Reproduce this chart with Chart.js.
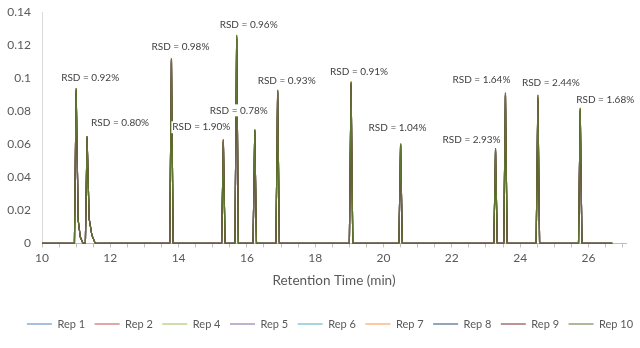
<!DOCTYPE html>
<html>
<head>
<meta charset="utf-8">
<script src="https://cdn.jsdelivr.net/npm/chart.js@4/dist/chart.umd.min.js"></script>
<style>
  html, body { margin: 0; padding: 0; background: #fff; }
  canvas { display: block; }
</style>
</head>
<body>
<canvas id="chrom" width="640" height="348"></canvas>
<script>
// retention time of each peak (min) and its RSD label
const retention = [11.0, 11.32, 13.79, 15.31, 15.7, 16.23, 16.9, 19.05, 20.5, 23.28, 23.57, 24.52, 25.76];
const rsdLabels = ['0.92%', '0.80%', '0.98%', '1.90%', '0.96%', '0.78%', '0.93%', '0.91%', '1.04%', '2.93%', '1.64%', '2.44%', '1.68%'];

// peak heights per replicate
const rep1  = [0.0925, 0.0642, 0.1105, 0.0618, 0.1245, 0.0683, 0.0918, 0.0968, 0.0598, 0.0556, 0.0895, 0.0872, 0.0806];
const rep2  = [0.0932, 0.0646, 0.1112, 0.0624, 0.1250, 0.0686, 0.0922, 0.0972, 0.0600, 0.0562, 0.0899, 0.0885, 0.0810];
const rep4  = [0.0938, 0.0649, 0.1118, 0.0629, 0.1262, 0.0689, 0.0928, 0.0979, 0.0604, 0.0570, 0.0908, 0.0896, 0.0818];
const rep5  = [0.0921, 0.0640, 0.1100, 0.0612, 0.1238, 0.0679, 0.0913, 0.0962, 0.0594, 0.0548, 0.0886, 0.0860, 0.0798];
const rep6  = [0.0928, 0.0644, 0.1108, 0.0620, 0.1247, 0.0684, 0.0919, 0.0970, 0.0597, 0.0566, 0.0902, 0.0878, 0.0812];
const rep7  = [0.0934, 0.0647, 0.1114, 0.0626, 0.1254, 0.0687, 0.0925, 0.0975, 0.0602, 0.0559, 0.0893, 0.0890, 0.0803];
const rep8  = [0.0918, 0.0638, 0.1097, 0.0610, 0.1236, 0.0677, 0.0910, 0.0960, 0.0592, 0.0552, 0.0890, 0.0866, 0.0800];
const rep9  = [0.0930, 0.0645, 0.1110, 0.0622, 0.1249, 0.0685, 0.0921, 0.0971, 0.0599, 0.0563, 0.0897, 0.0882, 0.0808];
const rep10 = [0.0940, 0.0650, 0.1120, 0.0630, 0.1260, 0.0690, 0.0930, 0.0980, 0.0605, 0.0577, 0.0913, 0.0900, 0.0820];

// tailing of the first two peaks [time, signal]
const tail1 = [[11.06, 0.014], [11.12, 0.004], [11.2, 0]];
const tail2 = [[11.38, 0.015], [11.46, 0.005], [11.56, 0]];

const runStart = 10.0;
const runEnd = 26.7;
const yTicks = [0, 0.02, 0.04, 0.06, 0.08, 0.1, 0.12, 0.14];

const reps = [
  { name: 'Rep 1', heights: rep1, color: '#4F81BD' },
  { name: 'Rep 2', heights: rep2, color: '#C0504D' },
  { name: 'Rep 4', heights: rep4, color: '#9BBB59' },
  { name: 'Rep 5', heights: rep5, color: '#8064A2' },
  { name: 'Rep 6', heights: rep6, color: '#4BACC6' },
  { name: 'Rep 7', heights: rep7, color: '#F79646' },
  { name: 'Rep 8', heights: rep8, color: '#2C4D75' },
  { name: 'Rep 9', heights: rep9, color: '#772C2A' },
  { name: 'Rep 10', heights: rep10, color: '#5F7530' }
];

function buildTrace(heights) {
  const pts = [{ x: runStart, y: 0 }];
  retention.forEach((t, i) => {
    pts.push({ x: t - 0.05, y: 0 });
    pts.push({ x: t, y: heights[i] });
    const tail = i === 0 ? tail1 : i === 1 ? tail2 : [[t + 0.05, 0]];
    tail.forEach(p => pts.push({ x: p[0], y: p[1] }));
  });
  pts.push({ x: runEnd, y: 0 });
  return pts;
}

// Rep 10 drawn on top: chart.js paints dataset 0 last, legend gets reversed back
const datasets = reps.slice().reverse().map(r => ({
  label: r.name,
  data: buildTrace(r.heights),
  borderColor: r.color,
  backgroundColor: r.color,
  borderWidth: 1.2,
  pointRadius: 0,
  tension: 0,
  fill: false
}));

// where each RSD label sits relative to its peak apex (px)
const labelOffsets = [[14, -10], [33, -13], [9, -11], [-22, -12], [12, -10], [-16, -19], [9, -9], [8, -10], [-3, -16], [-24, -8], [-24, -13], [13, -12], [25, -8]];

const rsdPlugin = {
  id: 'rsdPlugin',
  afterLayout(chart) {
    // legend sits a bit right of centre in the original
    chart.legend.left += 17;
    chart.legend.right += 17;
  },
  afterDatasetsDraw(chart) {
    const ctx = chart.ctx;
    const xs = chart.scales.x, ys = chart.scales.y;
    ctx.save();
    ctx.font = '10px Lato';
    ctx.textAlign = 'center';
    ctx.textBaseline = 'middle';
    retention.forEach((t, i) => {
      const txt = 'RSD = ' + rsdLabels[i];
      const x = xs.getPixelForValue(t) + labelOffsets[i][0];
      const y = ys.getPixelForValue(rep10[i]) + labelOffsets[i][1];
      const w = ctx.measureText(txt).width;
      ctx.fillStyle = '#ffffff';
      ctx.fillRect(x - w / 2 - 1, y - 6, w + 2, 12);
      ctx.fillStyle = '#404040';
      ctx.fillText(txt, x, y);
    });
    ctx.restore();
  }
};

new Chart(document.getElementById('chrom'), {
  type: 'line',
  data: { datasets: datasets },
  options: {
    responsive: false,
    animation: false,
    devicePixelRatio: 1,
    layout: { padding: { top: 12, right: 14, bottom: 8.5, left: 0 } },
    scales: {
      x: {
        type: 'linear',
        min: 10,
        max: 27.1,
        afterBuildTicks: axis => {
          const t = [];
          for (let v = 10; v <= 27; v += 0.5) t.push({ value: v });
          axis.ticks = t;
        },
        ticks: {
          autoSkip: false,
          maxRotation: 0,
          padding: 4,
          color: '#595959',
          font: { family: 'Lato', size: 12 },
          callback: v => (Number.isInteger(v) && v % 2 === 0 ? String(v) : '')
        },
        grid: { drawOnChartArea: false, drawTicks: true, tickLength: 4, color: '#bfbfbf' },
        border: { color: '#bfbfbf' },
        title: {
          display: true,
          text: 'Retention Time (min)',
          color: '#595959',
          font: { family: 'Lato', size: 13.5 },
          padding: { top: 3, bottom: 20 }
        }
      },
      y: {
        min: 0,
        max: 0.14,
        afterBuildTicks: axis => { axis.ticks = yTicks.map(v => ({ value: v })); },
        afterFit: axis => {
          axis.width = 42;
          axis.paddingTop = 0;
          axis.paddingBottom = 0;
        },
        ticks: {
          padding: 11,
          color: '#595959',
          font: { family: 'Lato', size: 12 },
          callback: v => String(v)
        },
        grid: { display: false, drawTicks: false },
        border: { color: '#d9d9d9' }
      }
    },
    plugins: {
      legend: {
        position: 'bottom',
        reverse: true,
        labels: {
          usePointStyle: true,
          pointStyle: 'line',
          pointStyleWidth: 25,
          color: '#595959',
          font: { family: 'Lato', size: 11 },
          padding: 9.5
        }
      },
      tooltip: { enabled: false }
    }
  },
  plugins: [rsdPlugin]
});
</script>
</body>
</html>
